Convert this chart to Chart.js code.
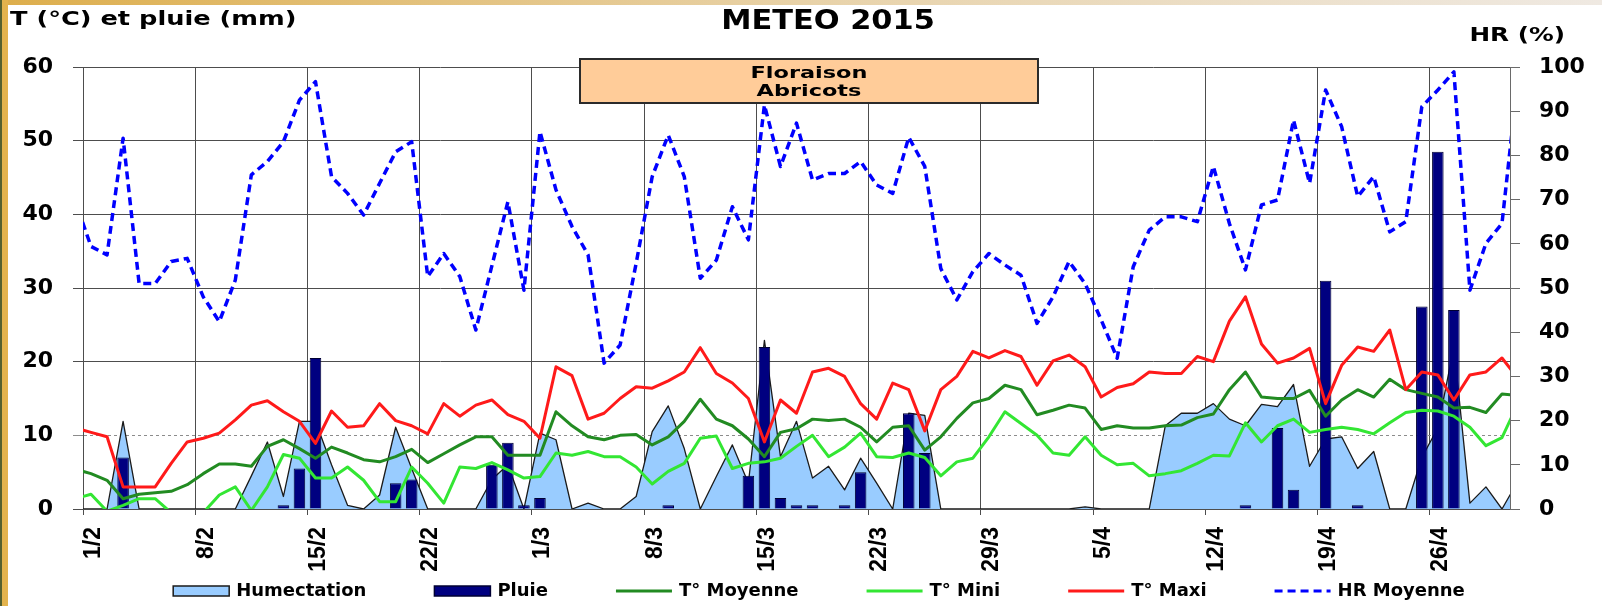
<!DOCTYPE html>
<html>
<head>
<meta charset="utf-8">
<script src="https://cdn.jsdelivr.net/npm/chart.js@4.4.1/dist/chart.umd.min.js"></script>
<style>
html,body{margin:0;padding:0;background:#fff;overflow:hidden;}
canvas{display:block;}
</style>
</head>
<body>
<canvas id="c" width="1602" height="606"></canvas>
<script>
// ---- categories: one per day, 31/1 and 1/5 are only partly visible at the plot edges
const months = [[1, 31, 31], [2, 1, 28], [3, 1, 31], [4, 1, 30], [5, 1, 1]];
const dayLabels = [];
for (const [m, from, to] of months) { for (let d = from; d <= to; d++) dayLabels.push(d + '/' + m); }

// ---- series (31/1, then 1/2 ... 30/4 by weeks, then 1/5)
const humectation = [0,
  0,0,11.9,0,0,0,0,
  0,0,0,4.5,9.1,1.7,11.9,
  11.9,6.0,0.5,0,1.9,11.1,5.5,
  0,0,0,0,4,6,0,
  10.3,9.4,0,0.8,0,0,1.7,
  10.5,14.0,8.2,0,4.4,8.7,3.5,
  22.9,7.1,11.9,4.2,5.8,2.6,6.9,
  3.5,0,13.0,12.7,0,0,0,
  0,0,0,0,0,0,0.3,
  0,0,0,0,11.3,13.0,13.0,
  14.3,12.2,11.3,14.2,13.9,16.9,5.8,
  9.5,9.8,5.5,7.8,0,0,7,
  11,22,0.8,3.0,0,
  3.8];

const pluie = [0,
  0,0,7.0,0,0,0,0,
  0,0,0,0,0,0.5,5.5,
  20.5,0,0,0,0,3.5,4.0,
  0,0,0,0,6.0,9.0,0.5,
  1.5,0,0,0,0,0,0,
  0,0.5,0,0,0,0,4.5,
  22.0,1.5,0.5,0.5,0,0.5,5.0,
  0,0,13.0,7.6,0,0,0,
  0,0,0,0,0,0,0,
  0,0,0,0,0,0,0,
  0,0,0.5,0,11.0,2.6,0,
  31.0,0,0.5,0,0,0,27.5,
  48.5,27.0,0,0,0,
  0];

const tMoyenne = [5.4,
  4.8,3.9,1.4,2.0,2.2,2.4,3.3,
  4.8,6.1,6.1,5.8,8.5,9.4,8.2,
  6.9,8.4,7.6,6.7,6.4,7.1,8.1,
  6.3,7.5,8.7,9.8,9.8,7.3,7.3,
  7.3,13.2,11.3,9.8,9.4,10.0,10.1,
  8.7,9.8,11.9,14.9,12.2,11.3,9.5,
  7.1,10.4,10.9,12.2,12.0,12.2,11.1,
  9.1,11.1,11.3,8.0,9.8,12.3,14.4,
  15.0,16.8,16.2,12.8,13.4,14.1,13.7,
  10.8,11.3,11.0,11.0,11.3,11.4,12.4,
  12.9,16.2,18.6,15.2,15.0,15.0,16.1,
  12.6,14.8,16.2,15.2,17.6,16.2,15.7,
  15.2,13.7,13.8,13.1,15.6,
  15.4];

const tMini = [1.4,
  2.0,-0.3,0.5,1.4,1.4,-0.5,-1.5,
  -0.5,1.9,3.0,-0.2,3.0,7.4,6.9,
  4.2,4.2,5.7,3.9,1.0,1.0,5.7,
  3.5,0.8,5.7,5.5,6.3,5.3,4.2,
  4.4,7.6,7.3,7.8,7.1,7.1,5.7,
  3.4,5.1,6.2,9.6,9.9,5.5,6.2,
  6.4,6.9,8.5,10.0,7.1,8.4,10.3,
  7.1,7.0,7.6,7.0,4.5,6.4,6.9,
  9.8,13.2,11.6,10.0,7.6,7.3,9.8,
  7.3,6.0,6.2,4.5,4.8,5.2,6.2,
  7.3,7.2,11.7,9.1,11.3,12.2,10.4,
  10.8,11.1,10.8,10.2,11.7,13.1,13.4,
  13.3,12.6,11.1,8.6,9.7,
  14.3];

const tMaxi = [11.0,
  10.4,9.8,3.0,3.0,3.0,6.2,9.1,
  9.6,10.3,12.1,14.1,14.7,13.2,11.9,
  8.9,13.3,11.1,11.3,14.3,12.0,11.3,
  10.2,14.3,12.6,14.1,14.8,12.8,11.9,
  9.6,19.3,18.1,12.2,13.0,15.0,16.6,
  16.4,17.4,18.6,21.9,18.4,17.1,15.0,
  9.1,14.8,13.0,18.6,19.1,18.0,14.3,
  12.2,17.1,16.2,10.6,16.2,18.0,21.4,
  20.5,21.5,20.7,16.8,20.1,20.9,19.3,
  15.2,16.5,17.0,18.6,18.4,18.4,20.7,
  20.0,25.5,28.8,22.4,19.8,20.5,21.8,
  14.3,19.5,22.0,21.4,24.3,16.2,18.6,
  18.2,14.8,18.2,18.6,20.5,
  17.7];

const hrMoyenne = [69.8,
  59.4,57.5,83.9,51,51,56,56.7,
  48,42.4,51.8,75.6,78.6,83.1,92.5,
  96.7,75.2,71.4,66.5,73.7,80.8,83.1,
  52.6,57.8,52.6,40.5,55,69.5,49.5,
  85.4,72.2,63.9,57.5,33,37.1,55.6,
  75.2,84.6,75.2,52.2,56.3,68.4,60.9,
  91.4,77.5,87.3,74.4,75.9,75.9,78.6,
  73.3,71.4,84.1,77.5,54.4,47.3,53.7,
  57.8,55.2,52.9,42,48,56,51,
  42.8,34.1,54.8,63.1,66.1,66.1,65,
  77.5,64.6,54.1,68.8,69.9,88,73.7,
  94.8,86.5,70.7,75.2,62.7,65,91,
  94.8,98.9,49.5,60.1,64.6,
  97.8];

const leftTicks = [0, 10, 20, 30, 40, 50, 60];
const rightTicks = [0, 10, 20, 30, 40, 50, 60, 70, 80, 90, 100];
const firstDay = '1/2', lastDay = '30/4';

const FONT = '"DejaVu Sans", sans-serif';
const GRID = '#4d4d4d';
const clipArea = {left: 0, top: 6, right: 0, bottom: 0};

function stretchedText(ctx, text, x, y, size, sx, align) {
  ctx.save();
  ctx.font = 'bold ' + size + 'px ' + FONT;
  ctx.textAlign = align;
  ctx.textBaseline = 'alphabetic';
  ctx.fillStyle = '#000';
  ctx.translate(x, y);
  ctx.scale(sx, 1);
  ctx.fillText(text, 0, 0);
  ctx.restore();
}

const decor = {
  id: 'decor',
  beforeDraw(chart) {
    const ctx = chart.ctx;
    ctx.save();
    ctx.fillStyle = '#ffffff';
    ctx.fillRect(0, 0, chart.width, chart.height);
    const g = ctx.createLinearGradient(0, 0, chart.width, 0);
    g.addColorStop(0, '#DDAE4C');
    g.addColorStop(0.5, '#E8D2A8');
    g.addColorStop(1, '#EFE9E2');
    ctx.fillStyle = g;
    ctx.fillRect(0, 0, chart.width, 5);
    ctx.fillStyle = '#E3B34D';
    ctx.fillRect(0, 0, 8, chart.height);
    ctx.fillStyle = '#55602E';
    ctx.fillRect(0, 0, 2, chart.height);
    ctx.restore();
  },
  afterDatasetsDraw(chart) {
    const ctx = chart.ctx;
    ctx.save();
    ctx.fillStyle = '#FFCC99';
    ctx.fillRect(580, 59, 458, 44);
    ctx.strokeStyle = '#2b2b2b';
    ctx.lineWidth = 2;
    ctx.strokeRect(580, 59, 458, 44);
    ctx.restore();
    stretchedText(ctx, 'Floraison', 809, 78, 16, 1.4, 'center');
    stretchedText(ctx, 'Abricots', 809, 96, 16, 1.4, 'center');
  },
  afterDraw(chart) {
    const ctx = chart.ctx;
    stretchedText(ctx, 'METEO 2015', 828, 29, 26, 1.17, 'center');
    stretchedText(ctx, 'T (°C) et pluie (mm)', 10, 25, 19, 1.35, 'left');
    stretchedText(ctx, 'HR (%)', 1565, 41, 19, 1.3, 'right');

    // legend
    const ds = chart.data.datasets;
    ctx.save();
    ctx.font = 'bold 18px ' + FONT;
    const sample = 56, gapBT = 7, gapItem = 68, cy = 591;
    let total = 0;
    const widths = ds.map(d => ctx.measureText(d.label).width);
    widths.forEach(w => { total += sample + gapBT + w; });
    total += gapItem * (ds.length - 1);
    let x = 819 - total / 2;
    ds.forEach((d, i) => {
      ctx.save();
      if (d.type === 'bar' || d.fill) {
        ctx.fillStyle = d.backgroundColor;
        ctx.fillRect(x, cy - 5, sample, 10);
        ctx.lineWidth = 1.5;
        ctx.strokeStyle = d.fill ? '#1a1a1a' : d.borderColor;
        ctx.strokeRect(x, cy - 5, sample, 10);
      } else {
        ctx.strokeStyle = d.borderColor;
        ctx.lineWidth = 3;
        ctx.setLineDash(d.borderDash || []);
        ctx.beginPath();
        ctx.moveTo(x, cy);
        ctx.lineTo(x + sample, cy);
        ctx.stroke();
      }
      ctx.restore();
      ctx.fillStyle = '#000';
      ctx.textBaseline = 'middle';
      ctx.textAlign = 'left';
      ctx.fillText(d.label, x + sample + gapBT, cy);
      x += sample + gapBT + widths[i] + gapItem;
    });
    ctx.restore();
  }
};

const lineBase = {type: 'line', pointRadius: 0, pointHoverRadius: 0, tension: 0, fill: false,
  borderJoinStyle: 'round', clip: clipArea};

new Chart(document.getElementById('c'), {
  type: 'bar',
  data: {
    labels: dayLabels,
    datasets: [
      Object.assign({}, lineBase, {label: 'Humectation', data: humectation, yAxisID: 'y', fill: 'origin',
        backgroundColor: '#99CCFF', borderColor: '#1a1a1a', borderWidth: 1.3, order: 6}),
      {type: 'bar', label: 'Pluie', data: pluie, yAxisID: 'y', backgroundColor: '#000080',
        borderColor: '#000033', borderWidth: 1, barPercentage: 0.72, categoryPercentage: 1, order: 5, clip: clipArea},
      Object.assign({}, lineBase, {label: 'T° Moyenne', data: tMoyenne, yAxisID: 'y', borderColor: '#228B22', borderWidth: 3, order: 4}),
      Object.assign({}, lineBase, {label: 'T° Mini', data: tMini, yAxisID: 'y', borderColor: '#33E633', borderWidth: 3, order: 3}),
      Object.assign({}, lineBase, {label: 'T° Maxi', data: tMaxi, yAxisID: 'y', borderColor: '#FF1A1A', borderWidth: 3, order: 2}),
      Object.assign({}, lineBase, {label: 'HR Moyenne', data: hrMoyenne, yAxisID: 'y1', borderColor: '#0000FF',
        borderWidth: 3.5, borderDash: [8, 5], borderDashOffset: 3, borderCapStyle: 'butt', order: 1})
    ]
  },
  options: {
    responsive: false,
    devicePixelRatio: 1,
    animation: false,
    events: [],
    layout: {padding: {top: 67, left: 0, right: 0, bottom: 0}},
    plugins: {legend: {display: false}, title: {display: false}, tooltip: {enabled: false}},
    scales: {
      x: {
        type: 'category',
        offset: true,
        // visible range 1/2 .. 30/4; the neighbouring days only feed the edge segments
        afterDataLimits: s => { s.min = dayLabels.indexOf(firstDay); s.max = dayLabels.indexOf(lastDay); },
        grid: {
          offset: true,
          color: c => (c.index % 7 === 0) ? GRID : 'rgba(0,0,0,0)',
          lineWidth: 1,
          tickLength: 6
        },
        border: {color: GRID, width: 1},
        ticks: {
          autoSkip: false,
          maxRotation: 90,
          minRotation: 90,
          padding: 12,
          labelOffset: 3,
          color: '#000',
          font: {family: '"Liberation Sans", Arial, sans-serif', size: 23, weight: 'bold'},
          callback: function (v) { return ((v - 1) % 7 === 0) ? this.getLabelForValue(v) : ''; }
        },
        afterFit: s => { s.height = 97; }
      },
      y: {
        position: 'left',
        min: 0, max: 60,
        afterBuildTicks: s => { s.ticks = leftTicks.map(v => ({value: v})); },
        grid: {
          color: c => (c.tick && c.tick.value === 10) ? '#8c8c8c' : GRID,
          lineWidth: 1,
          tickLength: 10
        },
        border: {color: GRID, width: 1, dash: c => (c.tick && c.tick.value === 10) ? [3, 3] : []},
        ticks: {padding: 20, color: '#000', font: {family: FONT, size: 22, weight: 'bold'}},
        afterFit: s => { s.width = 83; }
      },
      y1: {
        position: 'right',
        min: 0, max: 100,
        afterBuildTicks: s => { s.ticks = rightTicks.map(v => ({value: v})); },
        grid: {drawOnChartArea: false, color: '#6a6a6a', tickLength: 10},
        border: {color: '#6a6a6a', width: 1},
        ticks: {padding: 19, color: '#000', font: {family: FONT, size: 22, weight: 'bold'}},
        afterFit: s => { s.width = 92; }
      }
    }
  },
  plugins: [decor]
});
</script>
</body>
</html>
